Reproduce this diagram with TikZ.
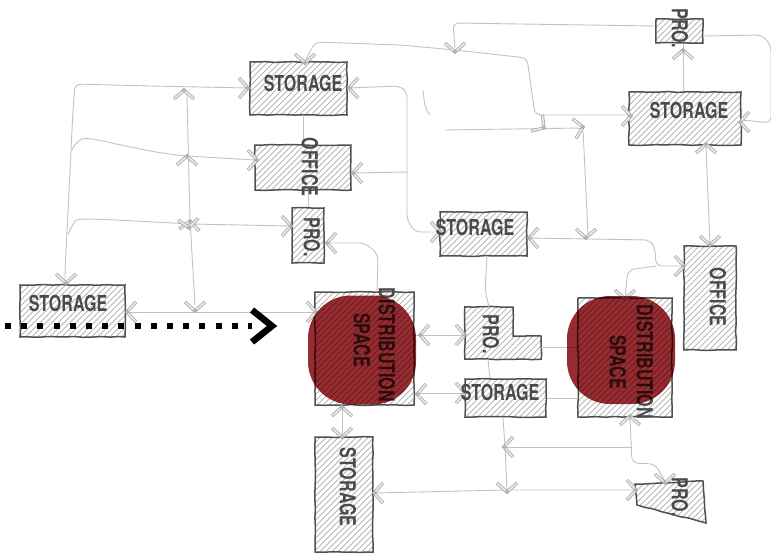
\documentclass[tikz,border=0pt]{standalone}
\usepackage{fontspec}
\newfontfamily\labfont[FakeStretch=0.73]{TeX Gyre Heros Bold}
\usetikzlibrary{calc,decorations.pathmorphing}
\definecolor{inkc}{HTML}{4A4A4A}
\definecolor{boxc}{HTML}{505050}
\definecolor{wirec}{HTML}{C2C2C2}
\definecolor{barbc}{HTML}{B2B2B2}
\definecolor{hatchc}{HTML}{ABABAB}
\definecolor{blobc}{HTML}{962B30}
\tikzset{
  hatched/.style={path picture={
    \foreach \k in {-165,-159,...,165}
      \draw[hatchc,line width=.7pt] ($(path picture bounding box.center)+(\k-80pt,-80pt)$) -- ($(path picture bounding box.center)+(\k+80pt,80pt)$);
  }},
  room/.style={draw=boxc,line width=1.5pt,hatched,inner sep=0pt,
     decorate,decoration={random steps,segment length=9pt,amplitude=.5pt}},
  ghost/.style={inner sep=0pt},
  wire/.style={draw=wirec,line width=.9pt,rounded corners=6pt},
  lab/.style={text=inkc,font=\labfont\fontsize{22}{22}\selectfont,inner sep=0pt,align=center},
  vlab/.style={lab,rotate=-90},
  blob/.style={fill=blobc,rounded corners=43pt,blend mode=multiply,inner sep=0pt},
  barb/.pic={
    \draw[line width=3.4pt,color=barbc] (-9,-10) -- (0,0) -- (-9,10);
    \draw[line width=1.5pt,color=white!92!black] (-8.6,-9.5) -- (-1.4,-1.5) (-1.4,1.5) -- (-8.6,9.5);
  }
}
\newcommand{\hd}[3]{\pic[rotate=#3] at (#1,#2) {barb};}
\newcommand{\rnode}[5]{\node[room,minimum width=#4pt,minimum height=#5pt] (#1) at (#2,#3) {};}
\begin{document}
\begin{tikzpicture}[x=1pt,y=-1pt]
\useasboundingbox (0,0) rectangle (771,554);
% rooms
\rnode{stoT}{298.5}{88.5}{97}{53}
\rnode{off}{303}{167.5}{96}{45}
\rnode{proA}{308}{235.5}{32}{55}
\rnode{stoL}{72.5}{311}{105}{52}
\rnode{disA}{364.5}{348.5}{99}{113}
\rnode{stoB}{344}{494.5}{58}{115}
\rnode{stoM}{483.5}{234}{87}{44}
\rnode{stoN}{505.5}{398}{81}{38}
\rnode{disB}{625}{357.5}{94}{119}
\rnode{offR}{710}{298}{52}{104}
\rnode{stoR}{685}{118.5}{112}{53}
\rnode{proT}{679.5}{31}{47}{24}
% L-shaped and wedge rooms
\node[ghost,minimum width=76pt,minimum height=52pt] (proL) at (503,333) {};
\node[ghost,minimum width=71pt,minimum height=42pt] (proW) at (670.5,502) {};
\draw[room] (proL.north west) -- (513,307) -- (513,336) -- (proL.east |- 0,336) -- (proL.south east) -- (proL.south west) -- cycle;
\draw[room] (635,484) -- (703,481) -- (706,523) -- (637,505) -- cycle;
% named junctions
\coordinate (jTL) at (68,235);
\coordinate (jA) at (187,95);
\coordinate (jB) at (195,305);
\coordinate (jC) at (408,172);
\coordinate (jD) at (533,115);
\coordinate (jE) at (656,266);
\coordinate (jF) at (583,128);
\coordinate (jG) at (505,447);
\coordinate (jH) at (507,490);
\coordinate (jI) at (631,447);
% connectors
\draw[wire] (stoL.north -| 65,0) -- (65,272) -- (73,110) -- (75,84) -- (150,86) -- (stoT.west |- 0,88);
\draw[wire] (72,150) -- (76,142) .. controls (90,135) and (130,150) .. (187,156) -- (off.west |- 0,160);
\draw[wire] (jTL) -- (72,225) .. controls (78,218) and (100,219) .. (190,224) -- (proA.west |- 0,226);
\draw[wire] (jA) -- (190,220) -- (jB);
\draw[wire] (stoL.east |- 0,312) -- (disA.west |- 0,312);
\draw[wire] (stoT.north -| 305,0) -- (315,42) -- (400,45) -- (455,50) -- (527,58) -- (535,115) -- (stoR.west |- jD);
\draw[wire] (455,48) -- (453,23) -- (proT.west |- 0,26);
\draw[wire] (stoT.east |- 0,88) -- (400,86) -- (407,92) -- (407,220) -- (415,232) -- (stoM.west |- 0,232);
\draw[wire] (off.east |- 0,173) -- (jC);
\draw[wire] (423,90) -- (425,108) -- (430,115);
\draw[wire] (303,115) -- (303,145);
\draw[wire] (off.south -| 308,0) -- (proA.north -| 308,0);
\draw[wire] (proA.east |- 0,243) -- (365,243) -- (378,254) -- (disA.north -| 377,0);
\draw[wire] (445,130) -- (jF) -- (588,235);
\draw[wire] (stoM.east |- 0,238) -- (650,240) -- (655,248) -- (jE) -- (offR.west |- jE);
\draw[wire] (jE) -- (628,270) -- (disB.north -| 625,0);
\draw[wire] (stoM.south -| 487,0) -- (485,290) -- (proL.north -| 489,0);
\draw[wire] (proL.south -| 488,0) -- (stoN.north -| 490,0);
\draw[wire] (stoN.south -| 503,0) -- (jG) -- (jH);
\draw[wire] (jI) -- (jG);
\draw[wire] (stoB.east |- 0,493) -- (jH) -- (proW.west |- 0,490);
\draw[wire] (disB.south -| 630,0) -- (632,463) -- (655,464) -- (665,481);
\draw[wire] (disA.east |- 0,335) -- (proL.west |- 0,335);
\draw[wire] (disA.east |- 0,393) -- (stoN.west |- 0,393);
\draw[wire] (proL.east |- 0,347) -- (disB.west |- 0,347);
\draw[wire] (stoN.east |- 0,398) -- (disB.west |- 0,398);
\draw[wire] (disA.south -| 342,0) -- (stoB.north -| 342,0);
\draw[wire] (stoR.north -| 683,0) -- (proT.south -| 683,0);
\draw[wire] (stoR.south -| 706,0) -- (offR.north -| 710,0);
\draw[wire] (proT.east |- 0,36) -- (762,35) -- (771,45) -- (771,123) -- (stoR.east |- 0,120);
% arrowheads
\hd{66}{283}{-90}
\hd{248}{88}{0}\hd{184}{90}{90}\hd{187}{156}{90}
\hd{257}{160}{0}
\hd{190}{221}{85}\hd{189}{228}{-85}
\hd{291}{226}{0}\hd{195}{311}{-90}
\hd{127}{312}{180}\hd{316}{312}{0}
\hd{305}{63}{-90}
\hd{455}{52}{-90}
\hd{349}{88}{180}\hd{353}{173}{180}
\hd{327}{243}{180}
\hd{440}{232}{0}\hd{529}{238}{180}
\hd{544}{128}{-35}\hd{583}{127}{10}\hd{586}{238}{-90}
\hd{631}{116}{0}\hd{740}{122}{180}
\hd{683}{50}{90}
\hd{706}{144}{90}\hd{710}{245}{-90}
\hd{684}{266}{0}\hd{625}{299}{-90}
\hd{420}{335}{180}\hd{465}{335}{0}
\hd{417}{394}{180}\hd{465}{393}{0}
\hd{342}{407}{90}\hd{342}{437}{-90}
\hd{504}{447}{180}\hd{507}{492}{-90}
\hd{374}{493}{180}\hd{636}{490}{0}
\hd{630}{416}{90}\hd{665}{483}{-90}
% labels
\node[lab] (tStoT) at (303,83) {STORAGE};
\node[vlab] (tOff) at (310,167) {OFFICE};
\node[vlab] (tProA) at (312,237) {PRO.};
\node[lab] (tStoL) at (68,303) {STORAGE};
\node[vlab] (tDisA) at (387,345) {DISTRIBUTION};
\node[vlab] (tSpaA) at (362,340) {SPACE};
\node[vlab] (tStoB) at (348,487) {STORAGE};
\node[lab] (tStoM) at (475,227) {STORAGE};
\node[vlab] (tProL) at (491,334) {PRO.};
\node[lab] (tStoN) at (500,392) {STORAGE};
\node[vlab] (tDisB) at (645,362) {DISTRIBUTION};
\node[vlab] (tSpaB) at (618,362) {SPACE};
\node[vlab] (tOffR) at (718,297) {OFFICE};
\node[lab] (tStoR) at (689,110) {STORAGE};
\node[vlab] (tProT) at (680,28) {PRO.};
\node[vlab] (tProW) at (680,497) {PRO.};
% red spaces
\node[blob,minimum width=108pt,minimum height=109pt] (blobA) at (362,350) {};
\node[blob,minimum width=108pt,minimum height=108pt] (blobB) at (621,350) {};
% route
\coordinate (rs) at (5,326);
\coordinate (re) at (252,326);
\coordinate (rt) at (272,326);
\draw[black,line width=6pt,dash pattern=on 6pt off 10.2pt] (rs) -- (re);
\draw[black,line width=6.5pt] ($(rt)+(-20,-16)$) -- (rt) -- ($(rt)+(-20,16)$);
\end{tikzpicture}
\end{document}
